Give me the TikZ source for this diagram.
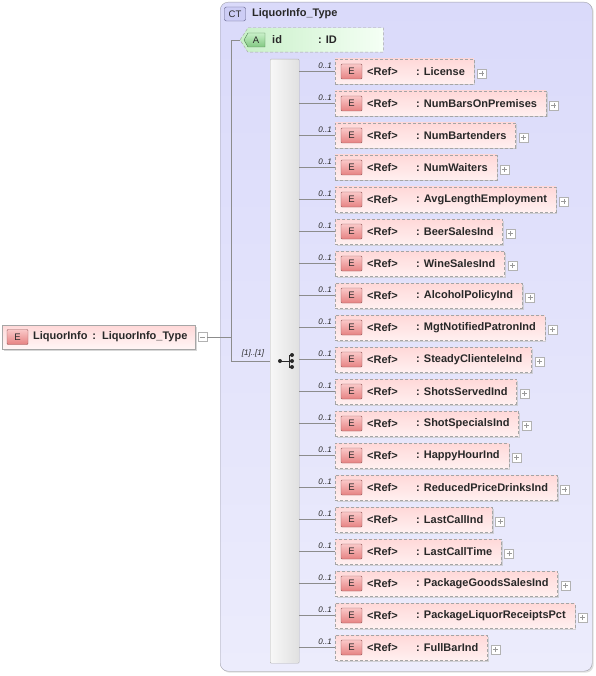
\documentclass[tikz,border=0pt]{standalone}
\usepackage{fontspec}
\setmainfont{Liberation Sans}
\usetikzlibrary{shadows}
\definecolor{ctfillA}{RGB}{218,218,250}
\definecolor{ctfillB}{RGB}{236,236,252}
\definecolor{ctline}{RGB}{160,160,170}
\definecolor{elA}{RGB}{255,216,216}
\definecolor{elB}{RGB}{255,240,240}
\definecolor{badgeA}{RGB}{250,200,200}
\definecolor{badgeB}{RGB}{230,130,130}
\definecolor{badgeline}{RGB}{150,90,90}
\definecolor{dashline}{RGB}{165,165,165}
\definecolor{connline}{RGB}{140,140,140}
\definecolor{attrA}{RGB}{200,240,200}
\definecolor{attrB}{RGB}{245,255,245}
\definecolor{abadgeA}{RGB}{200,240,200}
\definecolor{abadgeB}{RGB}{130,200,130}
\definecolor{abadgeline}{RGB}{80,130,80}
\definecolor{ctbadge}{RGB}{205,205,245}
\definecolor{ctbadgeline}{RGB}{90,90,130}
\definecolor{textc}{RGB}{40,40,40}
\tikzset{
  txt/.style={font=\fontsize{11}{13}\selectfont\bfseries, text=textc, inner sep=0},
  mult/.style={font=\fontsize{8}{9}\selectfont\itshape, text=textc, inner sep=0},
  elbox/.style={draw=dashline, dash pattern=on 3pt off 2pt, top color=elA, bottom color=elB,
     inner sep=0, minimum height=25pt, drop shadow={shadow xshift=1.5pt, shadow yshift=-1.5pt, fill=gray!45, opacity=0.7},
     font=\fontsize{11}{13}\selectfont\bfseries, text=textc},
  mainbox/.style={draw=gray!70, top color=elA, bottom color=elB!60!white,
     inner sep=0, minimum height=24pt, drop shadow={shadow xshift=1.5pt, shadow yshift=-1.5pt, fill=gray!45, opacity=0.7},
     font=\fontsize{11}{13}\selectfont\bfseries, text=textc},
  ebadge/.style={draw=badgeline, top color=badgeA, bottom color=badgeB, rounded corners=1pt,
     minimum width=21pt, minimum height=15pt, inner sep=0, font=\fontsize{9.5}{10}\selectfont, text=textc},
  plusbox/.style={draw=gray!60, fill=white, minimum size=9pt, inner sep=0,
     path picture={\draw[gray!80, line width=0.5pt] ([xshift=-2.5pt]path picture bounding box.center) -- ([xshift=2.5pt]path picture bounding box.center)
        ([yshift=-2.5pt]path picture bounding box.center) -- ([yshift=2.5pt]path picture bounding box.center);}},
  minusbox/.style={draw=gray!60, fill=white, minimum size=9pt, inner sep=0,
     path picture={\draw[gray!80, line width=0.5pt] ([xshift=-2.5pt]path picture bounding box.center) -- ([xshift=2.5pt]path picture bounding box.center);}},
  conn/.style={draw=connline, line width=0.6pt},
  ctbox/.style={draw=ctline, rounded corners=8pt, top color=ctfillA, bottom color=ctfillB,
     drop shadow={shadow xshift=1.5pt, shadow yshift=-1.5pt, fill=gray!40, opacity=0.6}, inner sep=0},
  seqbox/.style={draw=gray!60, left color=gray!6, right color=gray!24, rounded corners=1pt, inner sep=0},
}
\begin{document}
\begin{tikzpicture}[x=1pt, y=-1pt]
\useasboundingbox (0,0) rectangle (595,676);
% container
\node[ctbox, minimum width=372pt, minimum height=669pt, anchor=north west] (ct) at (220,2) {};
\node[draw=ctbadgeline, fill=ctbadge, rounded corners=2pt, minimum width=21pt, minimum height=14pt, inner sep=0,
      font=\fontsize{9.5}{10}\selectfont, text=textc] (ctb) at (235,14) {CT};
\node[txt, anchor=west] (cttitle) at (252,13.5) {LiquorInfo\_Type};
% attribute
\node[anchor=west, minimum width=135pt, minimum height=24pt, inner sep=0] (attr) at (248,40) {};
\coordinate (atip) at ([xshift=-8pt]attr.west);
\draw[draw=dashline, dash pattern=on 3pt off 2pt, left color=attrA, right color=attrB]
  (attr.north west) -- (attr.north east) -- (attr.south east) -- (attr.south west) -- (atip) -- cycle;
\draw[draw=abadgeline, top color=abadgeA, bottom color=abadgeB] (248,33) -- (265,33) -- (265,47) -- (248,47) -- (244,40) -- cycle;
\node[font=\fontsize{9.5}{10}\selectfont, text=textc, inner sep=0] (abadge) at (256,40) {A};
\node[txt, anchor=west] (aname) at (272,39.5) {id};
\node[txt, anchor=west] (atype) at (318,39.5) {: ID};
% sequence
\node[seqbox, minimum width=29pt, minimum height=604pt, anchor=north west] (seq) at (270,59) {};
\draw[textc, line width=0.8pt] (280,361) -- (289,361) (289,355) -- (289,367)
  (289,355) -- (292,355) (289,367) -- (292,367) (289,361) -- (292,361);
\fill[textc] (280,361) circle (2pt) (292,355) circle (2pt) (292,361) circle (2pt) (292,367) circle (2pt);
% main element
\node[mainbox, anchor=west] (main) at (2,337) {\hspace*{31pt}LiquorInfo \,:\, LiquorInfo\_Type\hspace*{8pt}};
\node[ebadge] (mainb) at (17.5,337) {E};
\node[minusbox, anchor=west] (minus) at ([xshift=2pt]main.east) {};
\coordinate (jt) at (231,40);
\coordinate (jb) at (231,361);
\draw[conn] (minus.east) -- (minus.east -| jt);
\draw[conn] (atip) -- (jt) -- (jb) -- (seq.west |- jb);
\node[mult, anchor=south] (seqmult) at (253,357) {[1]..[1]};
% elements
\foreach \nm [count=\i from 0] in {License, NumBarsOnPremises, NumBartenders, NumWaiters, AvgLengthEmployment,
  BeerSalesInd, WineSalesInd, AlcoholPolicyInd, MgtNotifiedPatronInd, SteadyClienteleInd, ShotsServedInd,
  ShotSpecialsInd, HappyHourInd, ReducedPriceDrinksInd, LastCallInd, LastCallTime, PackageGoodsSalesInd,
  PackageLiquorReceiptsPct, FullBarInd} {
  \pgfmathsetmacro\yy{71.5+32*\i}
  \node[elbox, anchor=west] (e\i) at (335,\yy) {\hspace*{81pt}: \nm\hspace*{9pt}};
  \node[ebadge] (eb\i) at (351.5,\yy) {E};
  \node[txt, anchor=west] (er\i) at (367,\yy) {<Ref>};
  \node[plusbox, anchor=west] (ep\i) at ([xshift=3pt, yshift=-2pt]e\i.east) {};
  \draw[conn] (seq.east |- e\i.west) -- (e\i.west);
  \node[mult, anchor=south east] (em\i) at (332,\yy-3) {0..1};
}
\end{tikzpicture}
\end{document}
